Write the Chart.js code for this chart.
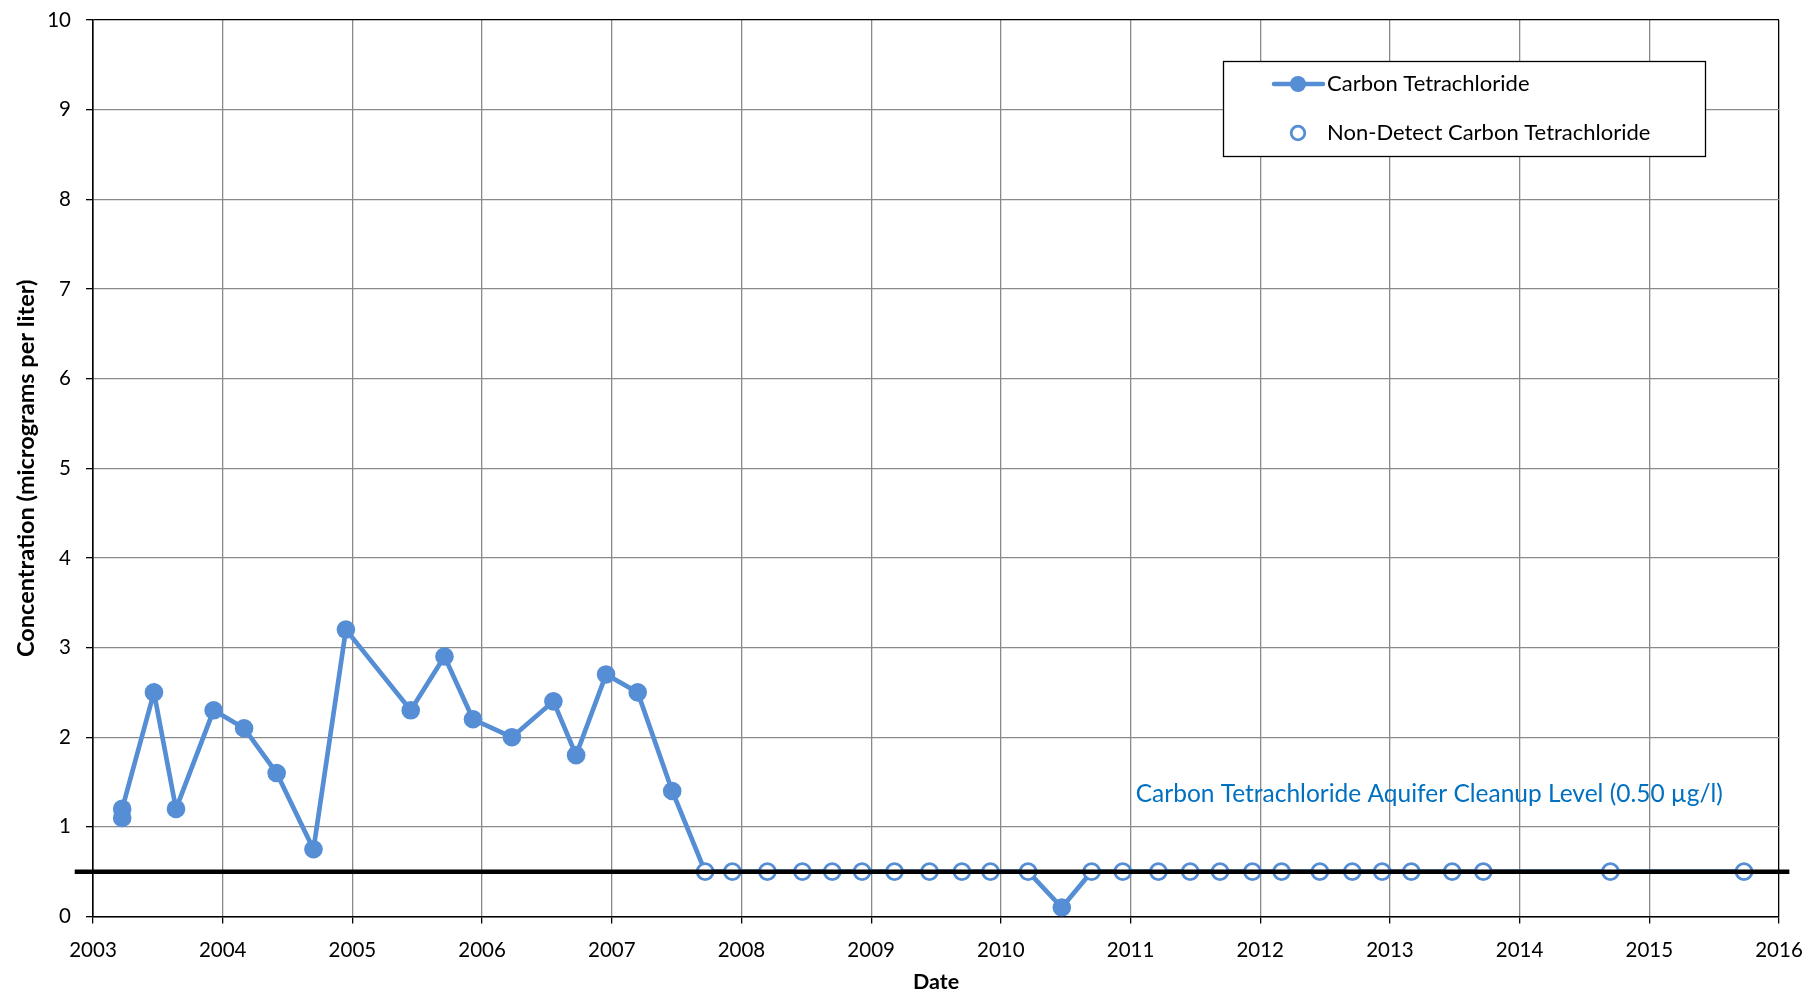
<!DOCTYPE html>
<html>
<head>
<meta charset="utf-8">
<title>Carbon Tetrachloride Concentration</title>
<script src="https://cdn.jsdelivr.net/npm/chart.js@4/dist/chart.umd.min.js"></script>
<style>
  html, body { margin: 0; padding: 0; background: #ffffff; }
  #wrap { width: 1808px; height: 995px; }
</style>
</head>
<body>
<div id="wrap"><canvas id="chart" width="1808" height="995"></canvas></div>
<script>
// Sample dates (decimal years) and measured concentrations (µg/l)
const sampleDates = [
  2003.225, 2003.225, 2003.47, 2003.64, 2003.93, 2004.165, 2004.416, 2004.70,
  2004.95, 2005.45, 2005.71, 2005.93, 2006.23, 2006.55, 2006.725, 2006.956,
  2007.20, 2007.466, 2007.72, 2007.93, 2008.20, 2008.47, 2008.70, 2008.93,
  2009.18, 2009.45, 2009.70, 2009.92, 2010.21, 2010.47, 2010.70, 2010.94,
  2011.215, 2011.46, 2011.69, 2011.94, 2012.165, 2012.46, 2012.71, 2012.94,
  2013.165, 2013.48, 2013.72, 2014.70, 2015.73
];
const concentration = [
  1.1, 1.2, 2.5, 1.2, 2.3, 2.1, 1.6, 0.75,
  3.2, 2.3, 2.9, 2.2, 2.0, 2.4, 1.8, 2.7,
  2.5, 1.4, 0.5, 0.5, 0.5, 0.5, 0.5, 0.5,
  0.5, 0.5, 0.5, 0.5, 0.5, 0.1, 0.5, 0.5,
  0.5, 0.5, 0.5, 0.5, 0.5, 0.5, 0.5, 0.5,
  0.5, 0.5, 0.5, 0.5, 0.5
];
// 1 = reported as non-detect (plotted at the reporting limit)
const nonDetect = [
  0, 0, 0, 0, 0, 0, 0, 0,
  0, 0, 0, 0, 0, 0, 0, 0,
  0, 0, 1, 1, 1, 1, 1, 1,
  1, 1, 1, 1, 1, 0, 1, 1,
  1, 1, 1, 1, 1, 1, 1, 1,
  1, 1, 1, 1, 1
];

// Aquifer cleanup level and the span of its reference line
const cleanupLevel = 0.5;
const cleanupSpan = [2002.859, 2016.08];
const cleanupLabel = 'Carbon Tetrachloride Aquifer Cleanup Level (0.50 µg/l)';

// Axis ticks
const yearTicks = [2003, 2004, 2005, 2006, 2007, 2008, 2009, 2010, 2011, 2012, 2013, 2014, 2015, 2016];
const concTicks = [0, 1, 2, 3, 4, 5, 6, 7, 8, 9, 10];

const seriesNames = ['Carbon Tetrachloride', 'Non-Detect Carbon Tetrachloride'];

const BLUE = '#558ED5';
const LABEL_BLUE = '#0070C0';
const GRID = '#8a8a8a';
const FONT = 'Lato, "Open Sans", sans-serif';

const allPoints = sampleDates.map((d, i) => ({ x: d, y: concentration[i] }));
const ndPoints = allPoints.filter((p, i) => nonDetect[i]);
const cleanupPoints = cleanupSpan.map(d => ({ x: d, y: cleanupLevel }));

// Boxed legend inside the plot area, top right
const boxLegend = {
  id: 'boxLegend',
  afterDraw(chart) {
    const ctx = chart.ctx;
    const x0 = 1223, y0 = 61, w = 482, h = 95;
    ctx.save();
    ctx.fillStyle = '#ffffff';
    ctx.fillRect(x0, y0, w, h);
    ctx.strokeStyle = '#000000';
    ctx.lineWidth = 1.3;
    ctx.strokeRect(x0 + 0.5, y0 + 0.5, w, h);

    // entry 1: line with filled marker
    const r1 = 84;
    ctx.strokeStyle = BLUE;
    ctx.lineWidth = 4.5;
    ctx.lineCap = 'round';
    ctx.beginPath();
    ctx.moveTo(1274, r1);
    ctx.lineTo(1323, r1);
    ctx.stroke();
    ctx.fillStyle = BLUE;
    ctx.beginPath();
    ctx.arc(1298, r1, 8, 0, Math.PI * 2);
    ctx.fill();

    // entry 2: open marker
    const r2 = 133;
    ctx.fillStyle = '#ffffff';
    ctx.strokeStyle = BLUE;
    ctx.lineWidth = 2.8;
    ctx.beginPath();
    ctx.arc(1298, r2, 6.8, 0, Math.PI * 2);
    ctx.fill();
    ctx.stroke();

    ctx.fillStyle = '#000000';
    ctx.font = '22px ' + FONT;
    ctx.textBaseline = 'middle';
    ctx.textAlign = 'left';
    ctx.fillText(seriesNames[0], 1327, r1);
    ctx.fillText(seriesNames[1], 1327, r2);
    ctx.restore();
  }
};

// Text label for the cleanup level
const cleanupText = {
  id: 'cleanupText',
  afterDatasetsDraw(chart) {
    const { ctx, scales } = chart;
    ctx.save();
    ctx.fillStyle = LABEL_BLUE;
    ctx.font = '24.5px ' + FONT;
    ctx.textBaseline = 'middle';
    ctx.textAlign = 'left';
    ctx.fillText(cleanupLabel, scales.x.getPixelForValue(2011.04), scales.y.getPixelForValue(1.36));
    ctx.restore();
  }
};

function build() {
  new Chart(document.getElementById('chart'), {
    type: 'line',
    data: {
      datasets: [
        {
          label: 'Cleanup Level',
          data: cleanupPoints,
          borderColor: '#000000',
          borderWidth: 4.5,
          pointRadius: 0,
          clip: false,
          order: 0
        },
        {
          label: seriesNames[1],
          data: ndPoints,
          showLine: false,
          pointStyle: 'circle',
          pointRadius: 8,
          pointBorderWidth: 2.8,
          pointBackgroundColor: '#ffffff',
          pointBorderColor: BLUE,
          order: 1
        },
        {
          label: seriesNames[0],
          data: allPoints,
          borderColor: BLUE,
          borderWidth: 4.7,
          pointRadius: nonDetect.map(f => f ? 0 : 9.3),
          pointBackgroundColor: BLUE,
          pointBorderColor: BLUE,
          pointBorderWidth: 0,
          tension: 0,
          order: 2
        }
      ]
    },
    options: {
      responsive: false,
      animation: false,
      layout: { padding: { left: 0, right: 29, top: 20, bottom: 0 } },
      plugins: {
        legend: { display: false },
        tooltip: { enabled: false }
      },
      scales: {
        x: {
          type: 'linear',
          min: yearTicks[0],
          max: yearTicks[yearTicks.length - 1],
          afterBuildTicks: s => { s.ticks = yearTicks.map(v => ({ value: v })); },
          afterFit: s => { s.height = 78.5; s.paddingLeft = 0; s.paddingRight = 0; },
          ticks: {
            color: '#000000',
            font: { family: FONT, size: 20.5 },
            padding: 15,
            maxRotation: 0,
            autoSkip: false,
            callback: v => String(v)
          },
          grid: {
            color: c => (c.tick && c.tick.value === yearTicks[yearTicks.length - 1]) ? '#000000' : GRID,
            lineWidth: 1.3,
            tickLength: 7,
            tickColor: '#000000',
            tickWidth: 1.3
          },
          border: { display: true, color: '#000000', width: 1.6 },
          title: {
            display: true,
            text: 'Date',
            color: '#000000',
            font: { family: FONT, size: 21.5, weight: 'bold' },
            padding: { top: 0, bottom: 0 }
          }
        },
        y: {
          type: 'linear',
          min: concTicks[0],
          max: concTicks[concTicks.length - 1],
          afterBuildTicks: s => { s.ticks = concTicks.map(v => ({ value: v })); },
          afterFit: s => { s.width = 93; s.paddingTop = 0; s.paddingBottom = 0; },
          ticks: {
            color: '#000000',
            font: { family: FONT, size: 20.5 },
            padding: 15
          },
          grid: {
            color: c => (c.tick && c.tick.value === concTicks[concTicks.length - 1]) ? '#000000' : GRID,
            lineWidth: 1.3,
            tickLength: 7,
            tickColor: '#000000',
            tickWidth: 1.3
          },
          border: { display: true, color: '#000000', width: 1.6 },
          title: {
            display: true,
            text: 'Concentration (micrograms per liter)',
            color: '#000000',
            font: { family: FONT, size: 23.5, weight: 'bold' },
            padding: { top: 12, bottom: 0 }
          }
        }
      }
    },
    plugins: [cleanupText, boxLegend]
  });
}

Promise.all([
  document.fonts.load('20px Lato'),
  document.fonts.load('bold 20px Lato')
]).then(build, build);
</script>
</body>
</html>
